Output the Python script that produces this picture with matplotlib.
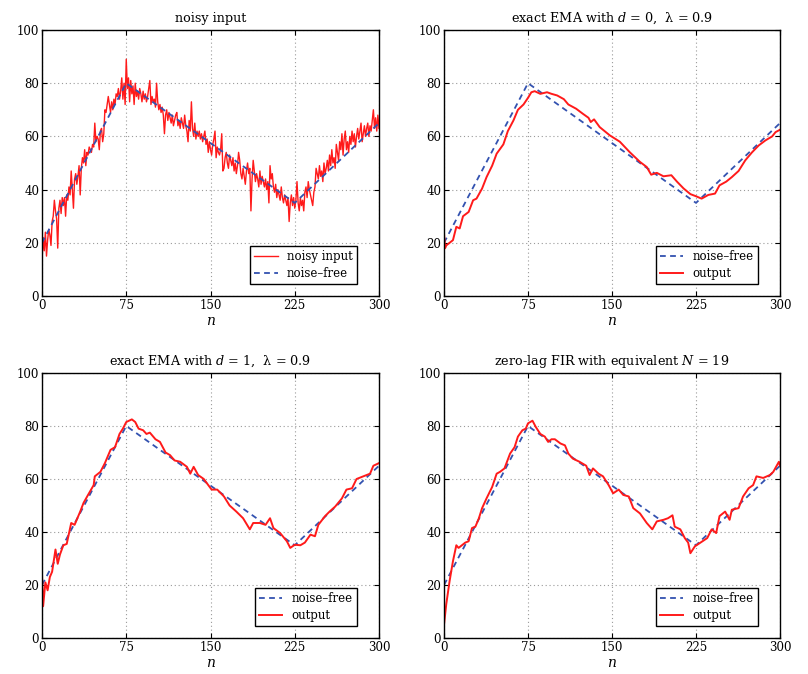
import numpy as np
import matplotlib
matplotlib.use("Agg")
import matplotlib.pyplot as plt

# ---------------- data ----------------
free_n = [0, 75, 225, 300]
free_v = [20, 80, 35, 65]

noisy = [
    13, 22, 17, 24, 15, 21, 25, 23, 19, 28,
    30, 36, 32, 29, 18, 33, 36, 31, 37, 34,
    37, 30, 38, 36, 41, 38, 47, 40, 33, 44,
    46, 42, 45, 49, 38, 48, 52, 50, 55, 49,
    54, 53, 56, 55, 54, 57, 56, 65, 58, 60,
    59, 55, 62, 63, 58, 61, 70, 69, 72, 75,
    72, 69, 73, 70, 74, 72, 76, 75, 78, 74,
    77, 82, 74, 80, 72, 89, 78, 82, 73, 81,
    76, 79, 72, 80, 75, 77, 74, 78, 76, 73,
    77, 74, 76, 73, 75, 78, 81, 72, 75, 73,
    74, 71, 80, 73, 70, 72, 69, 71, 68, 61,
    68, 70, 66, 69, 67, 65, 68, 64, 66, 68,
    69, 64, 66, 63, 67, 65, 63, 68, 64, 62,
    58, 66, 62, 73, 63, 60, 65, 59, 62, 60,
    62, 59, 61, 58, 60, 62, 57, 59, 54, 58,
    55, 53, 57, 59, 62, 52, 56, 54, 53, 55,
    61, 47, 48, 52, 54, 50, 48, 53, 51, 49,
    52, 47, 50, 46, 49, 54, 51, 46, 44, 48,
    45, 42, 47, 50, 46, 48, 32, 44, 51, 47,
    43, 46, 44, 41, 47, 42, 45, 43, 41, 44,
    40, 43, 35, 49, 44, 46, 41, 39, 42, 37,
    40, 38, 36, 41, 37, 35, 38, 36, 34, 37,
    28, 35, 38, 34, 37, 33, 36, 43, 35, 32,
    37, 34, 36, 32, 39, 41, 37, 43, 40, 38,
    36, 34, 39, 41, 48, 46, 44, 49, 45, 47,
    43, 50, 46, 48, 51, 47, 53, 49, 55, 50,
    52, 48, 57, 54, 51, 58, 55, 61, 53, 59,
    62, 55, 58, 54, 60, 57, 62, 58, 61, 56,
    60, 63, 59, 62, 65, 58, 61, 64, 60, 63,
    65, 60, 64, 62, 66, 70, 63, 67, 62, 68,
    63,
]

ema0_n = [0, 1, 2, 5, 8, 11, 14, 17, 22, 26, 29, 34, 38, 43, 47, 53, 57, 62, 66, 71,
          75, 78, 81, 86, 92, 96, 101, 107, 111, 118, 124, 129, 131, 134, 139, 148,
          157, 166, 175, 181, 185, 190, 196, 203, 208, 214, 220, 225, 230, 236, 242,
          246, 252, 257, 263, 269, 275, 281, 287, 293, 296, 300]
ema0_v = [23.5, 18, 19, 20, 21, 26, 25.4, 30, 31.6, 36, 36.6, 40.4, 44.7, 49, 53.5, 57,
          62, 66, 70, 72, 74.5, 76.6, 77, 76, 76.6, 76, 75.4, 74, 72, 70.4, 68.5, 67,
          65.4, 66.4, 63.5, 60.4, 58, 54, 50.4, 48.5, 45.6, 46.3, 45, 45.4, 43, 40.4,
          38.3, 37.5, 36.6, 38, 38.5, 41.6, 43, 44.7, 47, 51, 54, 56.6, 58.5, 60, 61.6,
          62.5]

ema1_n = [0, 1, 3, 5, 7, 9, 12, 14, 16, 19, 22, 26, 29, 34, 37, 41, 46, 47, 52, 56,
          61, 65, 69, 72, 75, 80, 83, 86, 90, 93, 96, 101, 105, 110, 114, 118, 123,
          129, 132, 135, 139, 144, 148, 151, 156, 162, 167, 173, 179, 185, 188, 194,
          199, 203, 206, 212, 218, 221, 225, 230, 234, 239, 243, 246, 252, 256, 261,
          267, 271, 276, 280, 286, 292, 295, 300]
ema1_v = [24, 12, 21, 18, 23, 25, 33.4, 28, 31.5, 35, 35.5, 43.4, 42.7, 47.7, 51, 54,
          57.7, 61, 62.7, 66, 71, 72, 77, 79, 81.5, 82.5, 81.5, 79, 78.4, 77, 77.5, 75,
          74, 70, 69, 67, 66.5, 64.6, 62, 64.6, 61.5, 60, 57.7, 56, 56, 53.4, 50, 47.7,
          45.2, 41, 43.4, 43.4, 42.7, 45.2, 41.5, 39.6, 36.5, 34, 35.2, 35, 36, 39,
          38.4, 42.7, 46, 47.7, 49.6, 52.7, 56, 56.5, 60, 61, 62, 65, 66]

fir_n = [0, 2, 5, 8, 11, 13, 16, 19, 22, 25, 28, 31, 34, 38, 43, 47, 50, 54, 59, 63,
         66, 70, 73, 75, 79, 82, 86, 90, 93, 96, 99, 104, 108, 111, 115, 121, 127, 130,
         133, 138, 142, 147, 151, 156, 160, 165, 169, 175, 181, 186, 190, 196, 200,
         204, 206, 211, 215, 218, 220, 224, 229, 235, 239, 243, 246, 251, 255, 257,
         263, 267, 272, 276, 279, 285, 291, 294, 299, 300]
fir_v = [5, 12.7, 21.5, 29, 35, 34, 35, 36, 36.5, 41.5, 42, 45, 49, 52.7, 57, 62, 62.7,
         64, 69.6, 72, 76, 78.4, 79, 81, 82, 79.6, 77, 76, 74, 75, 75, 73.4, 72.7, 69.6,
         67.7, 66.5, 65, 61.5, 64, 62, 61, 57.7, 54.6, 56, 54, 53.4, 49, 47, 43.4, 41,
         44, 44.6, 45.2, 46.3, 42, 41, 37.7, 36, 32, 34.6, 36, 37.7, 41, 39.6, 46, 47.7,
         44.6, 48.4, 49, 53.4, 56.5, 57.7, 61, 60.4, 61.5, 62.7, 66.5, 65]

titles = ["noisy input",
          "exact EMA with $d$ = 0,  \u03bb = 0.9",
          "exact EMA with $d$ = 1,  \u03bb = 0.9",
          "zero-lag FIR with equivalent $N$ = 19"]
xticks = [0, 75, 150, 225, 300]
yticks = [0, 20, 40, 60, 80, 100]

# ---------------- style ----------------
plt.rcParams['font.family'] = ['DejaVu Serif']
plt.rcParams['mathtext.fontset'] = 'dejavuserif'

RED = '#ff1a1a'
BLUE = '#3352b0'
DASH = (0, (3.2, 2.4))

fig = plt.figure(figsize=(8.08, 6.74), dpi=100)
W, H = 808, 674
boxes = [(42, 30, 379, 296), (444, 30, 780, 296),
         (42, 373, 379, 638), (444, 373, 780, 638)]
axes = []
for (x0, y0, x1, y1) in boxes:
    ax = fig.add_axes([x0 / W, 1 - y1 / H, (x1 - x0) / W, (y1 - y0) / H])
    axes.append(ax)

n_all = np.arange(len(noisy))

for i, ax in enumerate(axes):
    if i == 0:
        ax.plot(n_all, noisy, color=RED, lw=1.0, label='noisy input')
        ax.plot(free_n, free_v, color=BLUE, lw=1.3, ls=DASH, label='noise\u2013free')
    else:
        nn, vv = [(ema0_n, ema0_v), (ema1_n, ema1_v), (fir_n, fir_v)][i - 1]
        ax.plot(free_n, free_v, color=BLUE, lw=1.3, ls=DASH, label='noise\u2013free')
        ax.plot(nn, vv, color=RED, lw=1.4, label='output')
    ax.set_xlim(0, 300)
    ax.set_ylim(0, 100)
    ax.set_xticks(xticks)
    ax.set_yticks(yticks)
    ax.grid(True, ls=(0, (1, 2.5)), color='#9a9a9a', lw=0.8)
    ax.tick_params(direction='in', length=3.5, width=0.8, top=True, right=True,
                   labelsize=8.5, pad=2)
    for s in ax.spines.values():
        s.set_linewidth(1.0)
    ax.set_title(titles[i], fontsize=9.2, pad=6)
    ax.set_xlabel('$n$', fontsize=10, labelpad=1.5)
    leg = ax.legend(loc='lower right', bbox_to_anchor=(1 - 22 / 337, 12 / 266),
                    borderaxespad=0, fontsize=8.5, fancybox=False, framealpha=1,
                    edgecolor='black', handlelength=2.0, borderpad=0.35,
                    labelspacing=0.3)
    leg.get_frame().set_linewidth(1.0)

fig.savefig('out.png', dpi=100)
